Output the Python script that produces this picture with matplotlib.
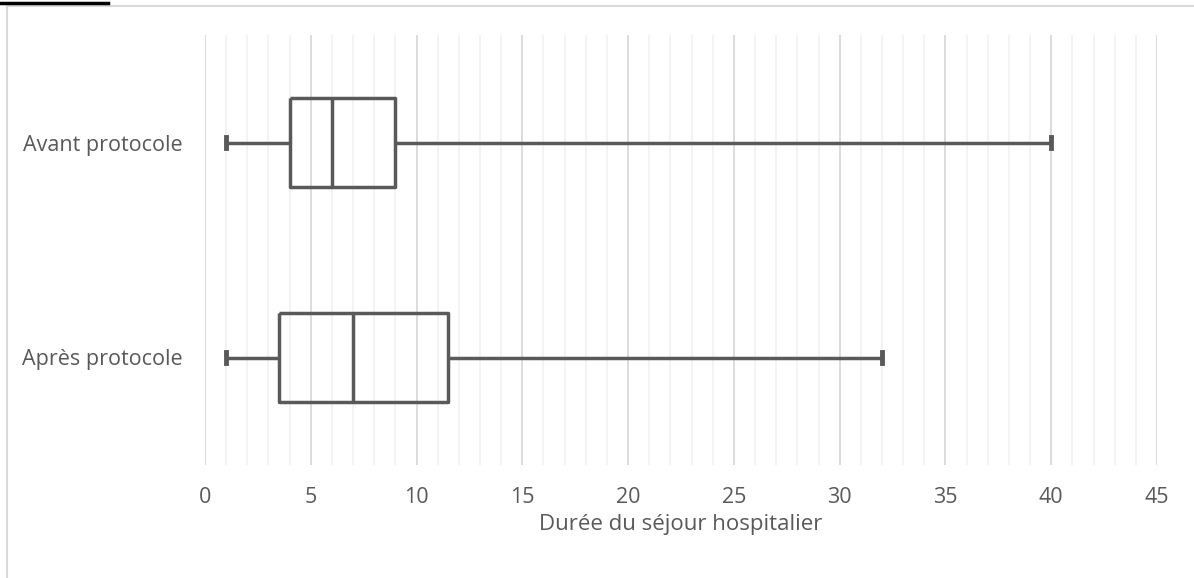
import matplotlib
matplotlib.use('Agg')
import matplotlib.pyplot as plt
from matplotlib.patches import Rectangle
from matplotlib.lines import Line2D

# Box statistics (days)
groups = ['Avant protocole', 'Après protocole']
whisker_low = [1, 1]
q1 = [4, 3.5]
median = [6, 7]
q3 = [9, 11.5]
whisker_high = [40, 32]

major_ticks = [0, 5, 10, 15, 20, 25, 30, 35, 40, 45]
xlabel = 'Durée du séjour hospitalier'

text_color = '#595959'
box_color = '#595959'
plt.rcParams['font.family'] = ['Open Sans', 'DejaVu Sans']

fig = plt.figure(figsize=(11.94, 5.78), dpi=100)
ax = fig.add_axes([205 / 1194, 1 - 465 / 578, 952 / 1194, 430 / 578])

# Chart frame border and the cut caption underline
fig.add_artist(Rectangle((7 / 1194, -0.01), 1.2, 1 - 6 / 578 + 0.01,
                         transform=fig.transFigure, fill=False,
                         edgecolor='#d9d9d9', linewidth=1.5))
fig.add_artist(Line2D([0, 108 / 1194], [1 - 3 / 578, 1 - 3 / 578],
                      transform=fig.transFigure, color='black', linewidth=2.5))

stats = []
for i, name in enumerate(groups):
    stats.append({'label': name, 'whislo': whisker_low[i], 'q1': q1[i],
                  'med': median[i], 'q3': q3[i], 'whishi': whisker_high[i],
                  'fliers': []})

line_style = dict(color=box_color, linewidth=2.5, solid_capstyle='butt')
ax.bxp(stats, positions=[0, 1], orientation='horizontal', widths=0.41,
       capwidths=0.055, showfliers=False,
       boxprops=line_style, whiskerprops=line_style,
       capprops=dict(color=box_color, linewidth=3.5),
       medianprops=line_style)

ax.set_xlim(0, 45)
ax.set_ylim(1.5, -0.5)

# Grid: light minor lines every unit, darker major every 5
for v in range(0, 46):
    if v % 5 == 0:
        ax.axvline(v, color='#d9d9d9', linewidth=1.3, zorder=0)
    else:
        ax.axvline(v, color='#f2f2f2', linewidth=1.3, zorder=0)

for s in ax.spines.values():
    s.set_visible(False)

ax.set_xticks(major_ticks)
ax.set_xticklabels([str(t) for t in major_ticks])
ax.set_yticks([0, 1])
ax.set_yticklabels(groups)
ax.tick_params(axis='x', length=0, labelsize=15.5, colors=text_color, pad=16)
ax.tick_params(axis='y', length=0, labelsize=15.5, colors=text_color, pad=16)
ax.set_xlabel(xlabel, fontsize=16, color=text_color, labelpad=4)

fig.savefig('out.png', dpi=100)
